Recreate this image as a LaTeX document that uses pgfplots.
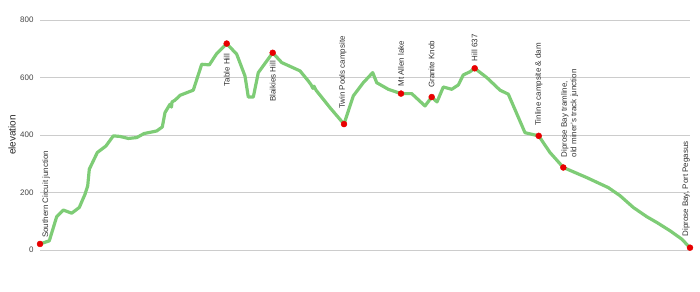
\documentclass[border=0pt]{standalone}
\usepackage{pgfplots}
\pgfplotsset{compat=1.18}
\usepackage{fontspec}
\setmainfont{Liberation Sans}
\definecolor{trail}{RGB}{126,204,118}
\definecolor{mk}{RGB}{232,0,0}
\definecolor{gridc}{RGB}{204,204,204}
\definecolor{lbl}{RGB}{68,68,68}
\begin{document}
\begin{tikzpicture}[x=1bp,y=1bp]
\useasboundingbox (0,0) rectangle (700,291);
\begin{axis}[
  at={(40bp,41bp)}, anchor=south west,
  scale only axis, width=650bp, height=230bp,
  xmin=40, xmax=690, ymin=0, ymax=800,
  xtick=\empty, ytick={0,200,400,600,800},
  ymajorgrids, grid style={gridc, line width=1pt},
  axis line style={draw=none}, major tick length=0pt,
  clip=false,
  yticklabel style={font=\fontsize{8}{9}\selectfont, text=lbl, xshift=-3bp},
  /pgf/number format/assume math mode=true,
]
\addplot[trail, line width=3.2pt, line join=round, line cap=round] coordinates {
(40,21) (49.3,32) (56.7,116) (63.3,139) (71.7,128) (79.3,148) (85,194) (87.7,223)
(89.3,281) (97.3,339) (106,362) (113.3,397) (120,395) (128.3,388) (136.7,391)
(144,405) (156.7,414) (162.3,428) (165,478) (170,507) (171.5,497) (172,515)
(175,521) (180,538) (193.3,556) (201.7,646) (209.3,644) (216.7,683) (226.7,718)
(236.7,681) (245,605) (248.3,532) (253.3,532) (258.3,617) (272.7,686) (281.7,652)
(300,623) (308.3,588) (311,575) (313,562) (314,570) (316,556) (330,495) (344,438)
(353.3,536) (363.3,582) (372.7,617) (376.7,582) (388.3,559) (401,544) (411.7,544)
(425,501) (431.7,532) (437,515) (443.3,567) (451.7,559) (458.3,574) (463.3,609)
(470,620) (474.7,632) (486.7,600) (500,556) (508.3,542) (525,408) (538.7,397)
(550,339) (556.7,313) (563.3,287) (586.7,252) (608.3,217) (620,189) (633.3,148)
(646.7,116) (656.7,96) (670,67) (681.7,38) (690,8)
};
\addplot[only marks, mark=*, mark size=3pt, mk, mark options={draw=mk, fill=mk}] coordinates {
(40,21) (226.7,718) (272.7,686) (344,438) (401,544) (431.7,532) (474.7,632) (538.7,397) (563.3,287) (690,8)
};
\tikzset{lab/.style={rotate=90, font=\fontsize{8}{9.5}\selectfont, text=black!80, inner sep=0pt}}
\node[lab, anchor=west] at ([yshift=6bp]axis cs:46,21) {Southern Circuit junction};
\node[lab, anchor=east] at ([yshift=-10bp]axis cs:226.7,718) {Table Hill};
\node[lab, anchor=east] at ([yshift=-8bp]axis cs:272.7,686) {Blaikies Hill};
\node[lab, anchor=west] at ([yshift=15bp]axis cs:342.7,438) {Twin Pools campsite};
\node[lab, anchor=west] at ([yshift=7bp]axis cs:401,544) {Mt Allen lake};
\node[lab, anchor=west] at ([yshift=9bp]axis cs:431.5,532) {Granite Knob};
\node[lab, anchor=west] at ([yshift=7bp]axis cs:474.5,632) {Hill 637};
\node[lab, anchor=west] at ([yshift=10bp]axis cs:538.7,397) {Tinline campsite \& dam};
\node[lab, anchor=west, align=left] at ([yshift=10bp]axis cs:569.5,287) {Diprose Bay tramline,\\ old miner's track junction};
\node[lab, anchor=west] at ([yshift=11bp]axis cs:686,8) {Diprose Bay, Port Pegasus};
\end{axis}
\node[rotate=90, font=\fontsize{10}{12}\selectfont, text=black!85] at (12,156) {elevation};
\end{tikzpicture}
\end{document}
